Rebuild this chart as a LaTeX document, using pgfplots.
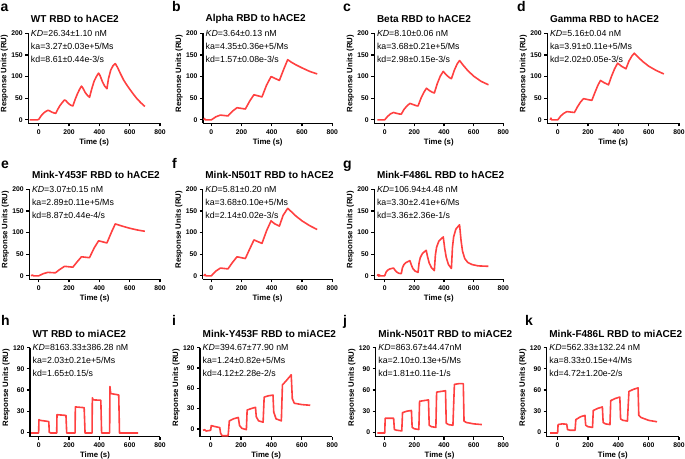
\documentclass[border=0pt]{standalone}
\usepackage{fontspec}
\setmainfont{Liberation Sans}
\usepackage{pgfplots}
\pgfplotsset{compat=1.18}
\definecolor{sprred}{RGB}{255,64,64}
\pgfplotsset{
 spr/.style={scale only axis, anchor=north west,
   axis x line*=bottom, axis y line*=left,
   axis line style={-, line width=1.2pt},
   tick style={black, line width=1.2pt},
   tick align=outside, major tick length=3pt,
   xmax=800, xtick={0,200,400,600,800},
   tick label style={font=\bfseries\fontsize{6.8}{8}\selectfont},
   yticklabel style={xshift=1pt},
   /pgf/number format/assume math mode=true,
   xlabel={Time (s)}, ylabel={Response Units (RU)},
   label style={font=\bfseries\fontsize{7.8}{9}\selectfont},
   xlabel style={yshift=3pt}, ylabel style={yshift=-3.5pt, at={(ticklabel cs:0.55)}},
   clip=false,
 },
 rowA/.style={ymin=-8, ymax=200, ytick={0,50,100,150,200}, height=90pt},
 rowC/.style={ymax=120, ytick={0,30,60,90,120}, height=89pt},
 sprline/.style={sprred, line width=1.6pt, line join=round, no markers},
}
\newcommand\info[4]{%
 \node[anchor=west, xshift=2.5pt, yshift=14pt, inner sep=0pt, font=\bfseries\fontsize{10}{12}\selectfont] at (rel axis cs:0,1) {#1};
 \node[anchor=west, xshift=2.5pt, inner sep=0pt, font=\fontsize{8.8}{10}\selectfont] at (rel axis cs:0,1) {#2};
 \node[anchor=west, xshift=2.5pt, yshift=-13pt, inner sep=0pt, font=\fontsize{8.8}{10}\selectfont] at (rel axis cs:0,1) {#3};
 \node[anchor=west, xshift=2.5pt, yshift=-26pt, inner sep=0pt, font=\fontsize{8.8}{10}\selectfont] at (rel axis cs:0,1) {#4};
}
\begin{document}
\begin{tikzpicture}
\useasboundingbox (0,0) rectangle (685pt,458pt);
\tikzset{letter/.style={anchor=base west, inner sep=0pt, font=\bfseries\fontsize{14}{15}\selectfont}}
\node[letter] at (0.5pt,446.5pt) {a};
\node[letter] at (172pt,446.5pt) {b};
\node[letter] at (343pt,446.5pt) {c};
\node[letter] at (517pt,446.5pt) {d};
\node[letter] at (1pt,289.7pt) {e};
\node[letter] at (172pt,289.7pt) {f};
\node[letter] at (343pt,289.7pt) {g};
\node[letter] at (1pt,132.3pt) {h};
\node[letter] at (172pt,132.3pt) {i};
\node[letter] at (343pt,132.3pt) {j};
\node[letter] at (525pt,132.3pt) {k};

% a
\begin{axis}[spr, rowA, at={(28.3pt,424.7pt)}, width=131.7pt, xmin=-69]
\addplot[sprline] coordinates {(-60,0) (-10,0) (0,1) (15,9) (30,15) (45,19) (60,22) (70,21) (85,18) (100,16) (112,15) (125,24) (140,33) (155,40) (170,46) (180,44) (195,38) (210,34) (225,32) (240,47) (255,60) (270,71) (282,78) (292,73) (305,64) (320,57) (335,52) (350,72) (365,89) (380,100) (395,108) (405,102) (420,88) (435,78) (450,72) (460,95) (475,115) (490,125) (505,130) (520,121) (540,106) (560,92) (580,81) (600,71) (625,59) (650,48) (675,39) (700,31)};
\info{WT RBD to hACE2}{\textit{KD}=26.34±1.10 nM}{ka=3.27±0.03e+5/Ms}{kd=8.61±0.44e-3/s}
\end{axis}
% b
\begin{axis}[spr, rowA, at={(203pt,424.7pt)}, width=129.3pt, xmin=-55]
\addplot[sprline] coordinates {(-50,0) (-45,3) (-40,0) (0,0) (30,7) (60,11) (110,9) (140,20) (170,28) (225,25) (255,44) (282,58) (335,53) (365,80) (395,100) (450,91) (480,118) (505,139) (530,133) (560,127) (600,120) (650,112) (700,106)};
\info{Alpha RBD to hACE2}{\textit{KD}=3.64±0.13 nM}{ka=4.35±0.36e+5/Ms}{kd=1.57±0.08e-3/s}
\end{axis}
% c
\begin{axis}[spr, rowA, at={(374.3pt,424.7pt)}, width=129pt, xmin=-70]
\addplot[sprline] coordinates {(-50,0) (-10,0) (0,0) (20,8) (40,14) (60,17) (80,15) (100,13.5) (112,13) (130,24) (150,32) (170,38) (190,35.5) (210,33) (225,32) (245,50) (265,64) (282,73) (300,68) (320,64) (335,62) (355,84) (375,101) (395,112) (415,104) (435,98) (450,95) (470,115) (490,130) (505,137) (530,126) (560,114) (600,101) (650,89) (700,81)};
\info{Beta RBD to hACE2}{\textit{KD}=8.10±0.06 nM}{ka=3.68±0.21e+5/Ms}{kd=2.98±0.15e-3/s}
\end{axis}
% d
\begin{axis}[spr, rowA, at={(547.3pt,424.7pt)}, width=131.7pt, xmin=-69]
\addplot[sprline] coordinates {(-50,0) (-45,4) (-40,0) (0,0) (20,9) (40,15) (60,19) (85,18) (110,17) (130,30) (150,41) (170,49) (195,47) (225,45) (245,63) (265,80) (282,91) (305,86) (335,81) (355,101) (375,118) (395,131) (420,124) (450,118) (470,136) (490,148) (505,154) (530,145) (560,135) (600,124) (650,114) (700,106)};
\info{Gamma RBD to hACE2}{\textit{KD}=5.16±0.04 nM}{ka=3.91±0.11e+5/Ms}{kd=2.02±0.05e-3/s}
\end{axis}
% e
\begin{axis}[spr, rowA, at={(29.3pt,268.7pt)}, width=130.7pt, xmin=-62]
\addplot[sprline] coordinates {(-50,0) (-42,2) (-35,0) (0,0) (30,5) (60,8) (110,7) (140,15) (170,22) (225,20) (255,33) (282,44) (335,42) (365,64) (395,81) (450,76) (480,101) (505,120) (550,115) (600,110) (650,106) (700,103)};
\info{Mink-Y453F RBD to hACE2}{\textit{KD}=3.07±0.15 nM}{ka=2.89±0.11e+5/Ms}{kd=8.87±0.44e-4/s}
\end{axis}
% f
\begin{axis}[spr, rowA, at={(202.7pt,268.7pt)}, width=129.6pt, xmin=-57]
\addplot[sprline] coordinates {(-50,0) (-42,3) (-35,0) (0,0) (30,11) (60,18) (110,16) (140,31) (170,44) (225,40) (255,63) (282,83) (335,75) (365,104) (395,127) (420,120) (450,115) (475,140) (505,156) (530,148) (560,138) (600,127) (650,116) (700,107)};
\info{Mink-N501T RBD to hACE2}{\textit{KD}=5.81±0.20 nM}{ka=3.68±0.10e+5/Ms}{kd=2.14±0.02e-3/s}
\end{axis}
% g
\begin{axis}[spr, rowA, at={(374.3pt,268.7pt)}, width=129pt, xmin=-70]
\addplot[sprline] coordinates {(-50,0) (-45,3) (-40,-1) (-35,2) (-30,0) (0,0) (10,9) (20,13) (35,16) (60,18) (70,13) (80,9) (95,6) (112,5) (120,19) (130,26) (145,31) (170,35) (180,25) (190,17) (205,11) (225,8) (232,30) (240,42) (255,52) (280,59) (290,43) (300,30) (315,19) (335,12) (342,48) (350,66) (365,80) (395,90) (405,63) (415,43) (430,26) (450,17) (457,65) (465,90) (480,108) (505,118) (515,82) (525,57) (540,40) (560,31) (590,26) (630,23) (700,22)};
\info{Mink-F486L RBD to hACE2}{\textit{KD}=106.94±4.48 nM}{ka=3.30±2.41e+6/Ms}{kd=3.36±2.36e-1/s}
\end{axis}
% h
\begin{axis}[spr, rowC, ymin=-6.2, at={(30pt,110.3pt)}, width=130pt, xmin=-57]
\addplot[sprline] coordinates {(-50,-1) (0,-1) (2,18) (10,17) (60,15.5) (67,15) (70,0) (80,-1) (119,-1) (121,25) (180,24) (185,-1) (240,-1) (242,36) (300,35) (306,-1) (352,-1) (354,49) (360,46) (410,45.5) (415,-1) (468,-1) (470,65) (475,55) (528,53) (533,-1) (655,-1)};
\info{WT RBD to miACE2}{\textit{KD}=8163.33±386.28 nM}{ka=2.03±0.21e+5/Ms}{kd=1.65±0.15/s}
\end{axis}
% i
\begin{axis}[spr, rowC, ymin=-11.4, at={(200pt,110.3pt)}, width=132.3pt, xmin=-70]
\addplot[sprline] coordinates {(-50,-2) (-40,-1) (-30,-3) (0,-2) (4,5) (20,4) (60,2) (65,-6) (75,-10) (115,-10) (123,12) (150,15) (182,17) (190,5) (205,1) (235,-1) (240,28) (265,30) (295,32) (300,18) (315,12) (345,10) (352,47) (380,49) (410,50) (415,25) (430,15) (465,12) (472,65) (500,72) (530,80) (537,45) (550,38) (600,36) (655,35)};
\info{Mink-Y453F RBD to miACE2}{\textit{KD}=394.67±77.90 nM}{ka=1.24±0.82e+5/Ms}{kd=4.12±2.28e-2/s}
\end{axis}
% j
\begin{axis}[spr, rowC, ymin=-6.2, at={(375.7pt,110.3pt)}, width=127.6pt, xmin=-61]
\addplot[sprline] coordinates {(-50,-1) (0,-1) (3,20) (60,20) (65,4) (80,3) (115,2) (120,28) (150,30) (180,31) (185,7) (200,5) (230,4) (235,44) (265,45) (295,46) (300,10) (315,8) (345,7) (350,57) (380,58) (410,59) (415,13) (430,11) (460,10) (470,68) (500,69) (530,69) (535,16) (550,14) (600,12) (655,11)};
\info{Mink-N501T RBD to miACE2}{\textit{KD}=863.67±44.47nM}{ka=2.10±0.13e+5/Ms}{kd=1.81±0.11e-1/s}
\end{axis}
% k
\begin{axis}[spr, rowC, ymin=-6.2, at={(546.7pt,110.3pt)}, width=132.3pt, xmin=-72]
\addplot[sprline] coordinates {(-50,-1) (0,-1) (3,11) (30,12) (60,11.5) (65,4) (80,3) (115,3) (120,18) (150,22) (180,24) (185,10) (200,8) (230,7) (235,31) (265,34) (295,36) (300,14) (315,12) (345,11) (350,45) (380,48) (410,50) (415,19) (430,17) (460,16) (470,58) (500,61) (530,63) (535,24) (550,21) (600,17) (655,15)};
\info{Mink-F486L RBD to miACE2}{\textit{KD}=562.33±132.24 nM}{ka=8.33±0.15e+4/Ms}{kd=4.72±1.20e-2/s}
\end{axis}
\end{tikzpicture}
\end{document}
